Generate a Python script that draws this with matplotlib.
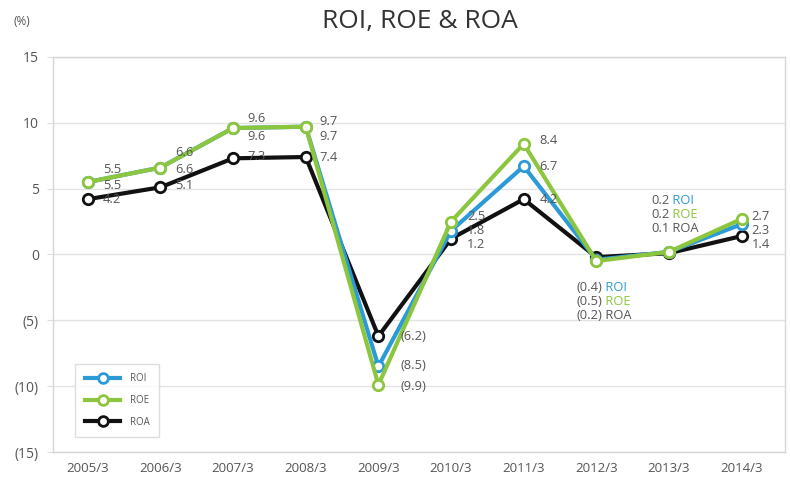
import matplotlib
matplotlib.use("Agg")
import matplotlib.pyplot as plt
from matplotlib.lines import Line2D

categories = ["2005/3", "2006/3", "2007/3", "2008/3", "2009/3",
              "2010/3", "2011/3", "2012/3", "2013/3", "2014/3"]
roi = [5.5, 6.6, 9.6, 9.7, -8.5, 1.8, 6.7, -0.4, 0.2, 2.3]
roe = [5.5, 6.6, 9.6, 9.7, -9.9, 2.5, 8.4, -0.5, 0.2, 2.7]
roa = [4.2, 5.1, 7.3, 7.4, -6.2, 1.2, 4.2, -0.2, 0.1, 1.4]
y_ticks = [15, 10, 5, 0, -5, -10, -15]
y_tick_labels = ["15", "10", "5", "0", "(5)", "(10)", "(15)"]

C_ROI = "#2b9ad6"
C_ROE = "#8cc63e"
C_ROA = "#111111"
TXT = "#555555"

plt.rcParams['font.family'] = ['Open Sans', 'DejaVu Sans']

fig = plt.figure(figsize=(7.9, 4.82), dpi=100)
ax = fig.add_axes([0.067, 0.062, 0.927, 0.820])

x = list(range(len(categories)))
series = [("ROA", roa, C_ROA, 3), ("ROI", roi, C_ROI, 4), ("ROE", roe, C_ROE, 5)]
for name, vals, col, z in series:
    ax.plot(x, vals, color=col, lw=3.0, marker='o', ms=7.5, mfc='white',
            mec=col, mew=2.0, zorder=z)

ax.set_xlim(-0.48, 9.6)
ax.set_ylim(-15, 15)
ax.set_yticks(y_ticks)
ax.set_yticklabels(y_tick_labels)
ax.set_xticks(x)
ax.set_xticklabels(categories)
ax.tick_params(axis='y', length=4, color='#dddddd', labelsize=10, labelcolor=TXT, pad=6)
ax.tick_params(axis='x', length=0, labelsize=9.5, labelcolor=TXT, pad=7)
ax.grid(axis='y', color='#e3e3e3', lw=1)
ax.set_axisbelow(True)
for s in ax.spines.values():
    s.set_color('#d6d6d6')
    s.set_linewidth(1)

def fmt(v):
    return f"({abs(v):.1f})" if v < 0 else f"{v:.1f}"

# label offsets (pixels): (dx, dy) per category, per series
dx = [15, 15, 14, 14, 22, 16, 16, -20, -18, 10]
dy = {
    "ROE": [12.6, 15, 9.6, 5, -2, 5, 3, -40, 37, 2],
    "ROI": [-3.4, -2, -8.4, -10, 1, 0, 0, -28, 51, -6],
    "ROA": [0, 2, 2, 0, 0, -6, 0, -58, 25, -8],
}
named = {7, 8}
for name, vals, col, z in series:
    for i, v in enumerate(vals):
        off = (dx[i], dy[name][i])
        ann = ax.annotate(fmt(v), (i, v), xytext=off, textcoords='offset pixels',
                          ha='left', va='center', fontsize=9.3, color=TXT, zorder=10)
        if i in named:
            ncol = TXT if name == "ROA" else col
            ax.annotate(" " + name, xycoords=ann, xy=(1, 0.5), xytext=(0, 0),
                        textcoords='offset pixels', ha='left', va='center',
                        fontsize=9.3, color=ncol, zorder=10)

handles = [Line2D([], [], color=c, lw=3.0, marker='o', ms=7, mfc='white', mec=c, mew=2)
           for c in (C_ROI, C_ROE, C_ROA)]
leg = ax.legend(handles, ["ROI", "ROE", "ROA"], loc='lower left',
                bbox_to_anchor=(0.024, 0.025), fontsize=7, handlelength=3.6,
                frameon=True, fancybox=False, edgecolor='#d6d6d6',
                borderpad=1.0, labelspacing=1.1, handletextpad=1.0, labelcolor=TXT)

fig.text(0.532, 0.955, "ROI, ROE & ROA", ha='center', va='center', fontsize=19, color='#333333')
fig.text(0.028, 0.955, "(%)", ha='center', va='center', fontsize=8.5, color=TXT)

fig.savefig("out.png", dpi=100)
